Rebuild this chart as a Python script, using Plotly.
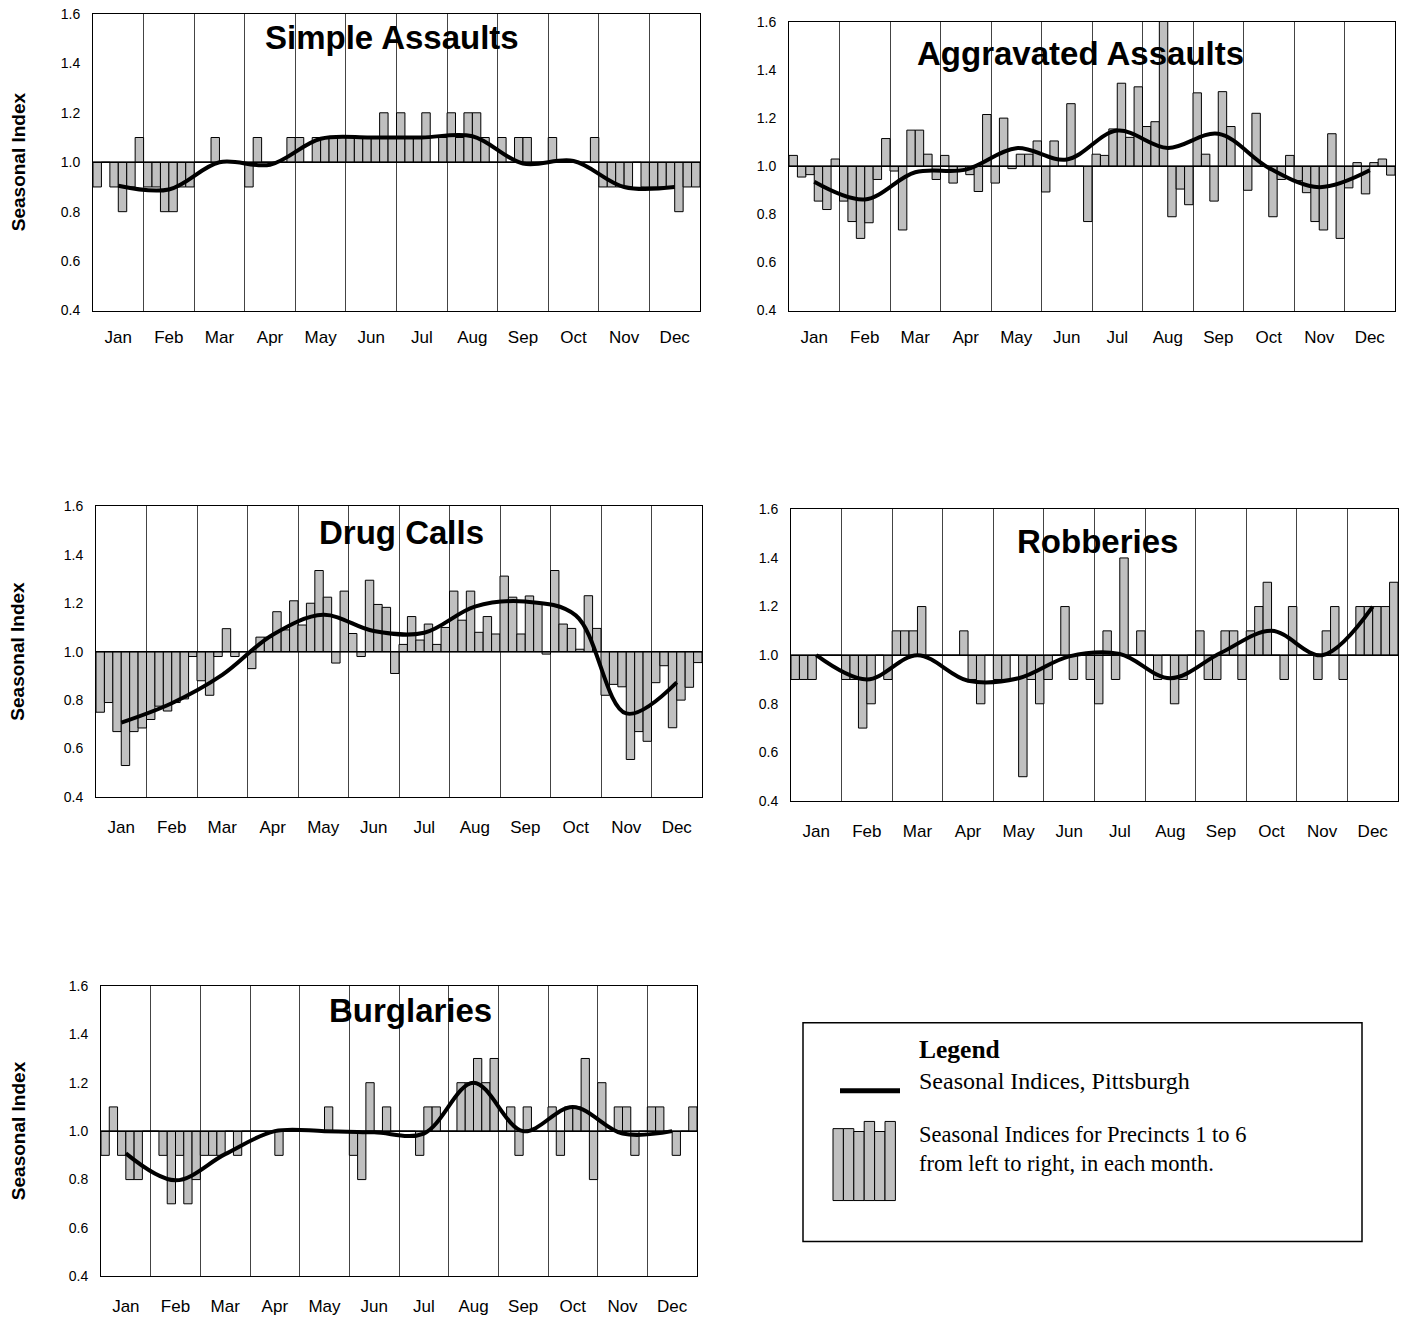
import plotly.graph_objects as go

W, H = 1404, 1321
MONTHS = ["Jan", "Feb", "Mar", "Apr", "May", "Jun", "Jul", "Aug", "Sep", "Oct", "Nov", "Dec"]
Y_TICKS = [0.4, 0.6, 0.8, 1.0, 1.2, 1.4, 1.6]

# Seasonal indices for precincts 1..6, one row per month
SIMPLE_PRECINCTS = [
    [0.9, 1.0, 0.9, 0.8, 0.9, 1.1],
    [0.9, 0.9, 0.8, 0.8, 0.9, 0.9],
    [1.0, 1.0, 1.1, 1.0, 1.0, 1.0],
    [0.9, 1.1, 1.0, 1.0, 1.0, 1.1],
    [1.1, 1.0, 1.1, 1.1, 1.1, 1.1],
    [1.1, 1.1, 1.1, 1.1, 1.2, 1.1],
    [1.2, 1.1, 1.1, 1.2, 1.0, 1.1],
    [1.2, 1.1, 1.2, 1.2, 1.1, 1.0],
    [1.1, 1.0, 1.1, 1.1, 1.0, 1.0],
    [1.1, 1.0, 1.0, 1.0, 1.0, 1.1],
    [0.9, 0.9, 0.9, 0.9, 1.0, 0.9],
    [0.9, 0.9, 0.9, 0.8, 0.9, 0.9],
]
SIMPLE_CITY = [0.905, 0.89, 1.0, 0.99, 1.095, 1.1, 1.1, 1.105, 0.995, 1.005, 0.9, 0.9]

AGGRAVATED_PRECINCTS = [
    [1.045, 0.955, 0.965, 0.855, 0.82, 1.03],
    [0.855, 0.77, 0.70, 0.765, 0.945, 1.115],
    [0.98, 0.735, 1.15, 1.15, 1.05, 0.945],
    [1.045, 0.93, 0.985, 0.965, 0.895, 1.215],
    [0.93, 1.20, 0.99, 1.05, 1.05, 1.105],
    [0.893, 1.105, 1.0, 1.26, 1.0, 0.77],
    [1.05, 1.045, 1.155, 1.345, 1.12, 1.33],
    [1.165, 1.185, 1.62, 0.79, 0.905, 0.84],
    [1.305, 1.05, 0.855, 1.31, 1.165, 1.0],
    [0.9, 1.22, 1.0, 0.79, 0.945, 1.045],
    [0.94, 0.89, 0.77, 0.735, 1.135, 0.70],
    [0.91, 1.015, 0.885, 1.015, 1.03, 0.963],
]
AGGRAVATED_CITY = [0.935, 0.862, 0.975, 0.986, 1.075, 1.028, 1.148, 1.076, 1.135, 0.993, 0.913, 0.983]

DRUG_PRECINCTS = [
    [0.75, 0.79, 0.67, 0.53, 0.67, 0.685],
    [0.72, 0.775, 0.755, 0.79, 0.805, 0.98],
    [0.88, 0.82, 0.98, 1.095, 0.98, 1.0],
    [0.93, 1.06, 1.06, 1.165, 1.09, 1.21],
    [1.11, 1.2, 1.335, 1.225, 0.953, 1.25],
    [1.075, 0.98, 1.295, 1.195, 1.183, 0.91],
    [1.03, 1.145, 1.048, 1.114, 1.03, 1.1],
    [1.25, 1.13, 1.25, 1.08, 1.145, 1.073],
    [1.312, 1.225, 1.073, 1.23, 1.2, 0.99],
    [1.335, 1.114, 1.096, 1.01, 1.231, 1.096],
    [0.82, 0.865, 0.855, 0.555, 0.67, 0.63],
    [0.872, 0.942, 0.686, 0.8, 0.853, 0.955],
]
DRUG_CITY = [0.707, 0.787, 0.904, 1.07, 1.152, 1.085, 1.078, 1.186, 1.207, 1.15, 0.745, 0.873]

ROBBERY_PRECINCTS = [
    [0.9, 0.9, 0.9, 1.0, 1.0, 1.0],
    [0.9, 0.9, 0.7, 0.8, 1.0, 0.9],
    [1.1, 1.1, 1.1, 1.2, 1.0, 1.0],
    [1.0, 1.0, 1.1, 0.9, 0.8, 1.0],
    [0.9, 0.9, 1.0, 0.5, 0.9, 0.8],
    [0.9, 1.0, 1.2, 0.9, 1.0, 0.9],
    [0.8, 1.1, 0.9, 1.4, 1.0, 1.1],
    [1.0, 0.9, 1.0, 0.8, 0.9, 1.0],
    [1.1, 0.9, 0.9, 1.1, 1.1, 0.9],
    [1.1, 1.2, 1.3, 1.0, 0.9, 1.2],
    [1.0, 1.0, 0.9, 1.1, 1.2, 0.9],
    [1.0, 1.2, 1.2, 1.2, 1.2, 1.3],
]
ROBBERY_CITY = [1.0, 0.9, 1.0, 0.895, 0.905, 0.995, 1.005, 0.905, 1.01, 1.1, 1.0, 1.2]

BURGLARY_PRECINCTS = [
    [0.9, 1.1, 0.9, 0.8, 0.8, 1.0],
    [1.0, 0.9, 0.7, 0.9, 0.7, 0.8],
    [0.9, 0.9, 0.9, 1.0, 0.9, 1.0],
    [1.0, 1.0, 1.0, 0.9, 1.0, 1.0],
    [1.0, 1.0, 1.0, 1.1, 1.0, 1.0],
    [0.9, 0.8, 1.2, 1.0, 1.1, 1.0],
    [1.0, 1.0, 0.9, 1.1, 1.1, 1.0],
    [1.0, 1.2, 1.2, 1.3, 1.2, 1.3],
    [1.0, 1.1, 0.9, 1.1, 1.0, 1.0],
    [1.1, 0.9, 1.1, 1.1, 1.3, 0.8],
    [1.2, 1.0, 1.1, 1.1, 0.9, 1.0],
    [1.1, 1.1, 1.0, 0.9, 1.0, 1.1],
]
BURGLARY_CITY = [0.908, 0.797, 0.905, 1.0, 1.0, 0.995, 0.99, 1.2, 1.0, 1.1, 0.99, 1.0]

LEGEND_ICON_HEIGHTS = [1.0, 1.0, 0.96, 1.1, 0.96, 1.1]

SANS = "Liberation Sans, Arial, sans-serif"
SERIF = "Liberation Serif, Times New Roman, serif"

# the photographed page is mapped vertically as y_shot = 0.989 * y_page + 6.1
VS, VO = 0.989, 6.1


def fx(px):
    return px / W


def fy(py):
    return 1 - ((py - VO) / VS) / H


# (title, precincts, city, plot box px (x0,x1,y0,y1), title center px, show y title, x label standoff)
panels = [
    ("Simple Assaults", SIMPLE_PRECINCTS, SIMPLE_CITY, (93, 700, 12, 309), (392, 36), True, 11),
    ("Aggravated Assaults", AGGRAVATED_PRECINCTS, AGGRAVATED_CITY, (789, 1395, 20, 309), (1080, 52), False, 11),
    ("Drug Calls", DRUG_PRECINCTS, DRUG_CITY, (96, 702, 505, 796), (401, 531), True, 15),
    ("Robberies", ROBBERY_PRECINCTS, ROBBERY_CITY, (791, 1398, 508, 800), (1097, 540), False, 15),
    ("Burglaries", BURGLARY_PRECINCTS, BURGLARY_CITY, (101, 697, 985, 1276), (410, 1010), True, 14),
]

fig = go.Figure()
annotations = []
shapes = []
layout_axes = {}

for i, (title, prec, city, box, tpos, ytitle, xstand) in enumerate(panels, start=1):
    xa = "x" if i == 1 else f"x{i}"
    ya = "y" if i == 1 else f"y{i}"
    bx, by = [], []
    for m, row in enumerate(prec):
        for k, v in enumerate(row):
            bx.append(m + (k + 0.5) / 6)
            by.append(v - 1.0)
    fig.add_trace(go.Bar(
        x=bx, y=by, base=1.0, width=1 / 6,
        marker=dict(color="#c0c0c0", line=dict(color="black", width=1)),
        xaxis=xa, yaxis=ya, showlegend=False, hoverinfo="skip",
    ))
    fig.add_trace(go.Scatter(
        x=[m + 0.5 for m in range(12)], y=city, mode="lines",
        line=dict(color="black", width=4, shape="spline"),
        xaxis=xa, yaxis=ya, showlegend=False, hoverinfo="skip",
    ))
    x0, x1, y0, y1 = box
    xkey = "xaxis" if i == 1 else f"xaxis{i}"
    ykey = "yaxis" if i == 1 else f"yaxis{i}"
    layout_axes[xkey] = dict(
        domain=[fx(x0), fx(x1)], anchor=ya, range=[0, 12],
        tickmode="array", tickvals=[m + 0.5 for m in range(12)], ticktext=MONTHS,
        ticks="", showgrid=False, zeroline=False,
        showline=True, mirror=True, linecolor="black", linewidth=1,
        tickfont=dict(family=SANS, size=17, color="black"),
        ticklabelstandoff=xstand,
        minor=dict(tickmode="array", tickvals=list(range(13)), showgrid=True,
                   gridcolor="#444444", gridwidth=1, ticks=""),
        fixedrange=True,
    )
    layout_axes[ykey] = dict(
        domain=[fy(y1), fy(y0)], anchor=xa, range=[0.4, 1.6],
        tickmode="array", tickvals=Y_TICKS, ticktext=[f"{v:.1f}" for v in Y_TICKS],
        ticks="", showgrid=False, zeroline=False,
        showline=True, mirror=True, linecolor="black", linewidth=1,
        tickfont=dict(family=SANS, size=14, color="black"),
        ticklabelstandoff=9,
        fixedrange=True,
    )
    shapes.append(dict(type="line", xref=f"{xa} domain", yref=ya, x0=0, x1=1, y0=1.0, y1=1.0,
                       line=dict(color="black", width=1.5)))
    annotations.append(dict(x=fx(tpos[0]), y=fy(tpos[1]), xref="paper", yref="paper",
                            text=f"<b>{title}</b>", showarrow=False, xanchor="center", yanchor="middle",
                            font=dict(family=SANS, size=33, color="black")))
    if ytitle:
        annotations.append(dict(x=fx(18), y=fy((y0 + y1) / 2), xref="paper", yref="paper",
                                text="<b>Seasonal Index</b>", showarrow=False, textangle=-90,
                                xanchor="center", yanchor="middle",
                                font=dict(family=SANS, size=19, color="black")))

# Legend box
shapes.append(dict(type="rect", xref="paper", yref="paper", x0=fx(803), x1=fx(1362), y0=fy(1241), y1=fy(1022),
                   line=dict(color="black", width=1.5), fillcolor="rgba(0,0,0,0)"))
shapes.append(dict(type="line", xref="paper", yref="paper", x0=fx(840), x1=fx(900), y0=fy(1090), y1=fy(1090),
                   line=dict(color="black", width=5)))
icon_left, icon_w, icon_bottom, icon_unit = 833, 10.4, 1200, 72
for k, h in enumerate(LEGEND_ICON_HEIGHTS):
    shapes.append(dict(type="rect", xref="paper", yref="paper",
                       x0=fx(icon_left + k * icon_w), x1=fx(icon_left + (k + 1) * icon_w),
                       y0=fy(icon_bottom), y1=fy(icon_bottom - h * icon_unit),
                       line=dict(color="black", width=1), fillcolor="#c0c0c0"))

for text, py, size in [("<b>Legend</b>", 1049, 25.5), ("Seasonal Indices, Pittsburgh", 1080, 24),
                       ("Seasonal Indices for Precincts 1 to 6<br>from left to right, in each month.", 1148, 22.5)]:
    annotations.append(dict(x=fx(917), y=fy(py), xref="paper", yref="paper",
                            text=text, showarrow=False, align="left",
                            xanchor="left", yanchor="middle",
                            font=dict(family=SERIF, size=size, color="black")))

fig.update_layout(
    width=W, height=H, autosize=False,
    margin=dict(l=0, r=0, t=0, b=0),
    paper_bgcolor="white", plot_bgcolor="white",
    barmode="overlay",
    annotations=annotations, shapes=shapes,
    **layout_axes,
)

fig.write_html(
    "out.html",
    config={"displayModeBar": False, "staticPlot": True},
    post_script="document.body.style.margin='0';document.body.style.padding='0';"
                "document.body.style.overflow='hidden';",
)
